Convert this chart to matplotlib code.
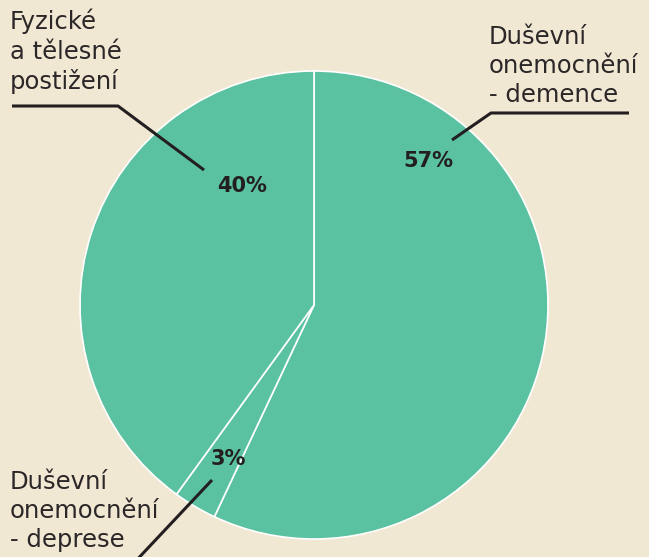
import matplotlib.pyplot as plt

# data
labels = ["Duševní\nonemocnění\n- demence", "Duševní\nonemocnění\n- deprese", "Fyzické\na tělesné\npostižení"]
values = [57, 3, 40]

bg = "#f1e8d3"
green = "#5bc2a1"
ink = "#231f20"

W, H = 649, 557
fig = plt.figure(figsize=(W / 100, H / 100), dpi=100, facecolor=bg)
ax = fig.add_axes([0, 0, 1, 1])
ax.set_facecolor(bg)

cx, cy, r = 314, H - 305, 234
ax.pie(values, colors=[green] * len(values), startangle=90, counterclock=False,
       center=(cx, cy), radius=r, frame=True,
       wedgeprops=dict(edgecolor="white", linewidth=1.2))
ax.set_xlim(0, W)
ax.set_ylim(0, H)
ax.set_aspect("equal")
ax.axis("off")

font = "DejaVu Sans"

# percentage labels (placed by hand, like the original)
pct_pos = [(428, 161), (228, 459), (242, 186)]
for v, (x, y) in zip(values, pct_pos):
    ax.text(x, H - y, f"{v}%", ha="center", va="center", fontsize=15,
            fontweight="bold", color=ink, family=font)

# category labels
name_pos = [(489, 25), (10, 470), (10, 9)]
for lab, (x, y) in zip(labels, name_pos):
    ax.text(x, H - y, lab, ha="left", va="top", fontsize=17.5, color="#2b2728",
            family=font, linespacing=1.27)

# leader lines
leaders = [
    [(452, 140), (491, 113), (629, 113)],
    [(212, 480), (132, 565)],
    [(12, 106), (118, 106), (204, 170)],
]
for pts in leaders:
    ax.plot([p[0] for p in pts], [H - p[1] for p in pts], color=ink, lw=2.2,
            solid_capstyle="butt", clip_on=False)

fig.savefig("out.png", dpi=100, facecolor=bg)
